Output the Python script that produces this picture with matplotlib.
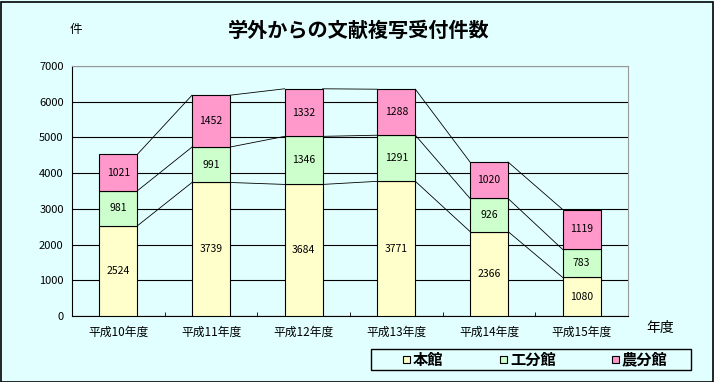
import matplotlib
matplotlib.use("Agg")
import matplotlib.pyplot as plt
from matplotlib.patches import Rectangle
import numpy as np

plt.rcParams['font.family'] = ['Noto Sans CJK JP', 'DejaVu Sans']

categories = ['平成10年度', '平成11年度', '平成12年度', '平成13年度', '平成14年度', '平成15年度']
honkan = [2524, 3739, 3684, 3771, 2366, 1080]
kobunkan = [981, 991, 1346, 1291, 926, 783]
nobunkan = [1021, 1452, 1332, 1288, 1020, 1119]
series_names = ['本館', '工分館', '農分館']
colors = ['#FFFFCC', '#CCFFCC', '#FF99CC']
bg = '#E2FFFF'

W, H = 714, 382
fig = plt.figure(figsize=(7.14, 3.82), dpi=100, facecolor=bg)
ax = fig.add_axes([72/W, 66/H, 556/W, 250/H])
ax.set_facecolor(bg)

x = np.arange(len(categories))
w = 0.41
data = [honkan, kobunkan, nobunkan]
bottom = np.zeros(len(categories))
for vals, col in zip(data, colors):
    vals = np.array(vals)
    ax.bar(x, vals, w, bottom=bottom, color=col, edgecolor='black', linewidth=0.8, zorder=3)
    for xi, b, v in zip(x, bottom, vals):
        ax.text(xi, b + v / 2, str(v), ha='center', va='center', fontsize=7.5, zorder=4)
    top = bottom + vals
    for i in range(len(x) - 1):
        ax.plot([x[i] + w / 2, x[i + 1] - w / 2], [top[i], top[i + 1]],
                color='black', linewidth=0.6, zorder=2)
    bottom = top

ax.set_xlim(-0.5, len(categories) - 0.5)
ax.set_ylim(0, 7000)
ax.set_yticks(range(0, 7001, 1000))
ax.set_yticklabels([str(v) for v in range(0, 7001, 1000)], fontsize=8)
ax.yaxis.grid(True, color='black', linewidth=0.8, zorder=1)
ax.set_axisbelow(True)
ax.tick_params(axis='y', length=0, pad=6)
ax.set_xticks(x)
ax.set_xticklabels(categories, fontsize=8.5)
ax.tick_params(axis='x', length=0, pad=7)
ax.set_xticks(np.arange(-0.5, len(categories), 1), minor=True)
ax.tick_params(axis='x', which='minor', direction='in', length=3)
for s in ['top', 'right']:
    ax.spines[s].set_color('#999999')
for s in ['left', 'bottom']:
    ax.spines[s].set_color('black')

fig.text(359/W, 1 - 30/H, '学外からの文献複写受付件数', ha='center', va='center',
         fontsize=14.5, fontweight='bold')
fig.text(76/W, 1 - 30/H, '件', ha='center', va='center', fontsize=9)
fig.text(660/W, 1 - 328/H, '年度', ha='center', va='center', fontsize=10)

# legend drawn manually
fig.patches.append(Rectangle((371/W, 1 - 370/H), 320/W, 21/H, transform=fig.transFigure,
                             facecolor=bg, edgecolor='black', linewidth=1.0))
marker_x = [403, 500, 612]
ly = 359.5
ms = 7
for mx, name, c in zip(marker_x, series_names, colors):
    fig.patches.append(Rectangle((mx/W, 1 - (ly + ms/2)/H), ms/W, ms/H,
                                 transform=fig.transFigure, facecolor=c,
                                 edgecolor='black', linewidth=0.8))
    fig.text((mx + ms + 3)/W, 1 - ly/H, name, ha='left', va='center',
             fontsize=11, fontweight='bold')

fig.patches.append(Rectangle((0.001, 0.001), 0.997, 0.995, transform=fig.transFigure,
                             fill=False, edgecolor='black', linewidth=1.2))

fig.savefig('out.png', dpi=100, facecolor=bg)
